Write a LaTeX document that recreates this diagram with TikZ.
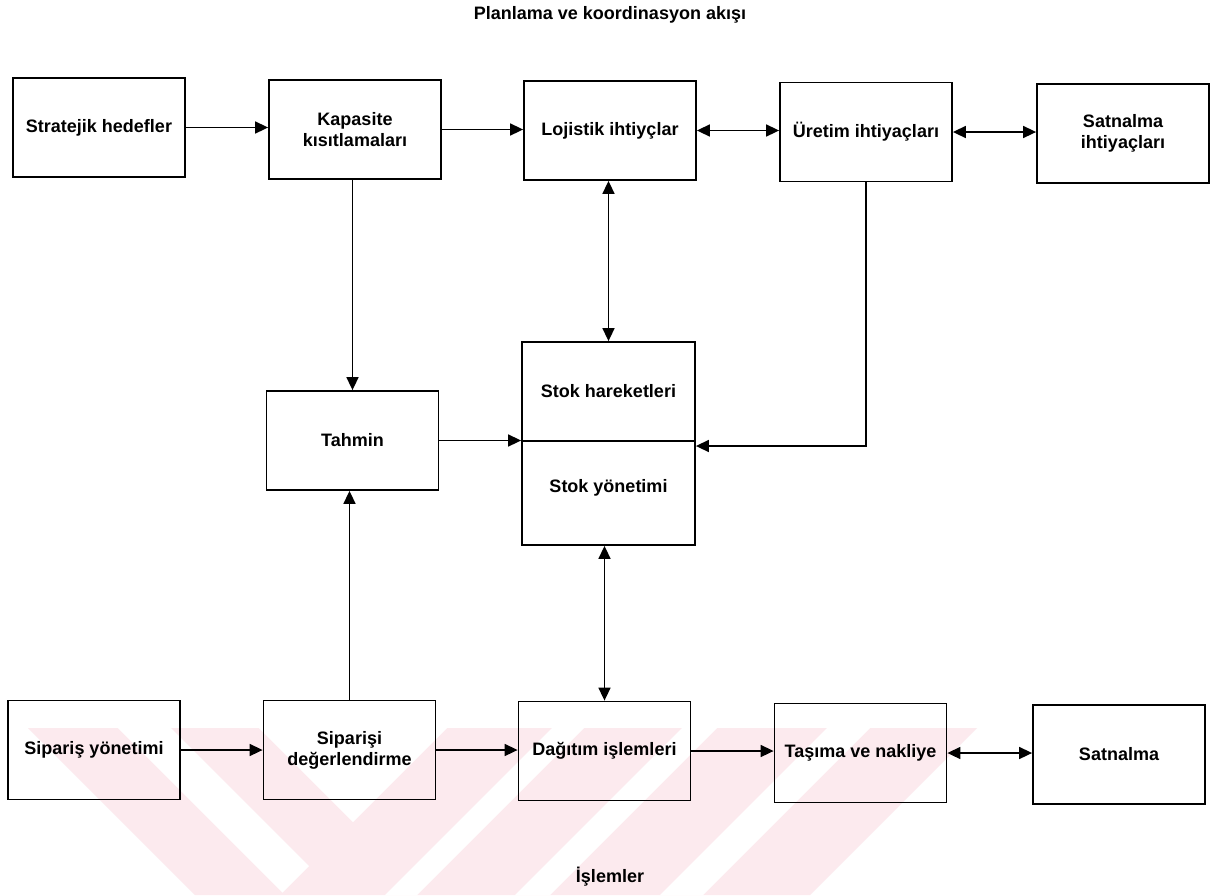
\documentclass[tikz,border=0pt]{standalone}
\usepackage{fontspec}
\setmainfont{Liberation Sans}
\usetikzlibrary{arrows.meta}
\definecolor{wmpink}{RGB}{252,234,238}
\newcommand\diaglbl{\fontsize{18}{21}\selectfont\bfseries}
\begin{document}
\begin{tikzpicture}[x=1pt,y=-1pt,
  box/.style={draw, line width=1.8pt, minimum width=172pt, minimum height=99pt,
              inner sep=2pt, align=center, font=\diaglbl},
  lbl/.style={inner sep=0pt, align=center, font=\diaglbl},
  conn/.style={line width=1.6pt, -{Triangle[length=13pt,width=12pt]}},
  biconn/.style={line width=1.6pt, {Triangle[length=13pt,width=12pt]}-{Triangle[length=13pt,width=12pt]}}]

% canvas
\useasboundingbox (0,0) rectangle (1218,895);
\fill[white] (0,0) rectangle (1218,895);

% pale background emblem behind the operations row
\begin{scope}
  \clip (0,728) rectangle (1218,895);
  \fill[wmpink] (28,728) -- (977,728) -- (810,895) -- (195,895) -- cycle;
  \fill[white] (118,728) -- (171,728) -- (309,866) -- (282.5,892.5) -- cycle;
  \fill[white] (259,728) -- (447,728) -- (353,822) -- cycle;
  \fill[white] (552,728) -- (584,728) -- (417,895) -- (385,895) -- cycle;
  \fill[white] (682,728) -- (717,728) -- (550,895) -- (515,895) -- cycle;
  \fill[white] (827,728) -- (870,728) -- (703,895) -- (660,895) -- cycle;
\end{scope}

% headings
\node[lbl] (plan) at (610,15) {Planlama ve koordinasyon akışı};
\node[lbl] (isl) at (610,877) {İşlemler};

% planning row
\node[box] (strat) at (99,127.5)  {Stratejik hedefler};
\node[box] (kap)   at (355,129.5) {Kapasite\\kısıtlamaları};
\node[box] (loj)   at (610,130.5) {Lojistik ihtiyçlar};
\node[box] (ure)   at (866,132)   {Üretim ihtiyaçları};
\node[box] (sati)  at (1123,133.5){Satnalma\\ihtiyaçları};

% middle
\node[box] (tah)  at (352.5,440.5) {Tahmin};
\node[box, minimum width=173pt, minimum height=203pt] (stok) at (608.5,443.5) {};
\draw[line width=1.4pt] (stok.west |- 0,441) -- (stok.east |- 0,441);
\node[lbl] (stokh) at (608.5,391) {Stok hareketleri};
\node[lbl] (stoky) at (608.5,488) {Stok yönetimi};

% operations row
\node[box] (sipy) at (94,750)     {Sipariş yönetimi};
\node[box] (sipd) at (349.5,750)  {Siparişi\\değerlendirme};
\node[box] (dag)  at (604.5,751)  {Dağıtım işlemleri};
\node[box] (tas)  at (860.5,753)  {Taşıma ve nakliye};
\node[box] (sat)  at (1119,754.5) {Satnalma};

% planning flow
\draw[conn]   (strat.east) -- (strat.east -| kap.west);
\draw[conn]   (kap.east) -- (kap.east -| loj.west);
\draw[biconn] (loj.east) -- (loj.east -| ure.west);
\draw[biconn] (ure.east) -- (ure.east -| sati.west);

% vertical links
\draw[conn]   (kap.south -| tah.north) -- (tah.north);
\draw[biconn] (loj.south -| stok.north) -- (stok.north);
\draw[conn]   (ure.south) |- ([yshift=-2.5pt]stok.east);
\draw[conn]   (tah.east) -- (tah.east -| stok.west);
\draw[conn]   (sipd.north) -- (sipd.north |- tah.south);
\draw[biconn] (stok.south -| dag.north) -- (dag.north);

% operations flow
\draw[conn]   (sipy.east) -- (sipy.east -| sipd.west);
\draw[conn]   (sipd.east) -- (sipd.east -| dag.west);
\draw[conn]   (dag.east) -- (dag.east -| tas.west);
\draw[biconn] (tas.east) -- (tas.east -| sat.west);
\end{tikzpicture}
\end{document}
